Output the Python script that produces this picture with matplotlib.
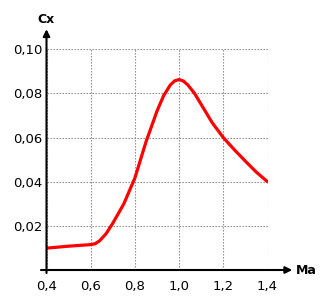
import matplotlib
matplotlib.use("Agg")
import matplotlib.pyplot as plt

# Ma values and drag coefficient
ma = [0.40, 0.50, 0.60, 0.62, 0.64, 0.67, 0.70, 0.75, 0.80, 0.85, 0.90,
      0.93, 0.96, 0.98, 1.00, 1.02, 1.04, 1.07, 1.10, 1.15, 1.20,
      1.25, 1.30, 1.35, 1.40]
cx = [0.0099, 0.0108, 0.0115, 0.0119, 0.0132, 0.0165, 0.0212, 0.0300, 0.0417, 0.0580, 0.0720,
      0.0790, 0.0838, 0.0857, 0.0863, 0.0856, 0.0838, 0.0800, 0.0750, 0.0667, 0.0600,
      0.0545, 0.0493, 0.0443, 0.0400]

xticks = [0.4, 0.6, 0.8, 1.0, 1.2, 1.4]
yticks = [0.02, 0.04, 0.06, 0.08, 0.10]
xlabels = ["0,4", "0,6", "0,8", "1,0", "1,2", "1,4"]
ylabels = ["0,02", "0,04", "0,06", "0,08", "0,10"]

fig = plt.figure(figsize=(3.3, 3.07), dpi=100)
ax = fig.add_axes([46.5 / 330, 37 / 307, 221 / 330, 220.7 / 307])

ax.plot(ma, cx, color="#ff0000", lw=2.3, solid_capstyle="round",
        solid_joinstyle="round", zorder=3)

ax.set_xlim(0.4, 1.4)
ax.set_ylim(0, 0.10)
ax.set_xticks(xticks)
ax.set_xticklabels(xlabels)
ax.set_yticks(yticks)
ax.set_yticklabels(ylabels)
ax.tick_params(length=0, labelsize=9.5)
ax.tick_params(axis="x", pad=7)
ax.tick_params(axis="y", pad=3)

ax.grid(True, ls=(0, (1.2, 1.5)), color="#808080", lw=0.8)
for s in ax.spines.values():
    s.set_visible(False)

# axes with arrows
ax.annotate("", xy=(1.512, 0), xytext=(0.375, 0),
            xycoords="data", annotation_clip=False,
            arrowprops=dict(arrowstyle="-|>", color="black", lw=1.5,
                            mutation_scale=10, shrinkA=0, shrinkB=0))
ax.annotate("", xy=(0.4, 0.1091), xytext=(0.4, -0.0014),
            xycoords="data", annotation_clip=False,
            arrowprops=dict(arrowstyle="-|>", color="black", lw=1.5,
                            mutation_scale=10, shrinkA=0, shrinkB=0))

ax.text(1.528, 0, "Ma", fontsize=9, fontweight="bold", ha="left", va="center")
ax.text(0.4, 0.1117, "Cx", fontsize=9, fontweight="bold", ha="center", va="baseline")

fig.savefig("out.png", dpi=100)
